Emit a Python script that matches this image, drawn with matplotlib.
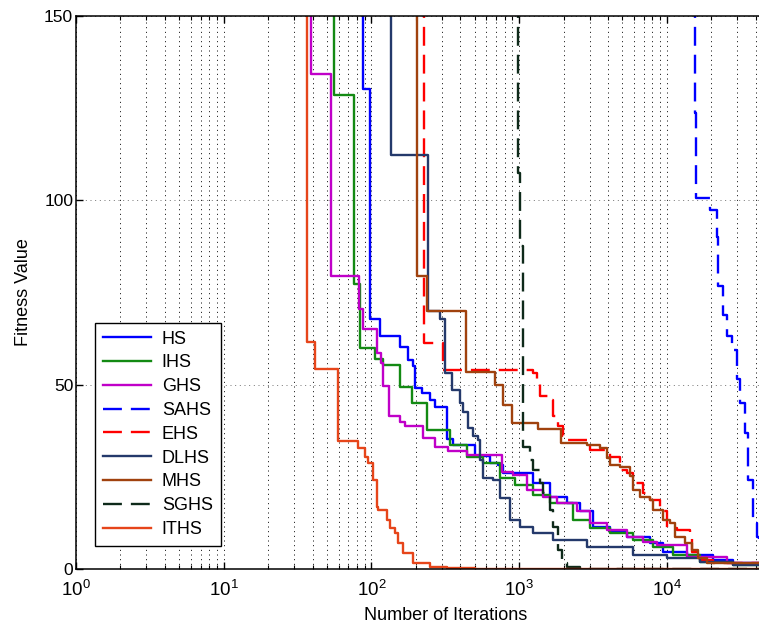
import matplotlib
matplotlib.use('Agg')
import matplotlib.pyplot as plt
from matplotlib.ticker import FixedLocator, LogLocator, NullFormatter, LogFormatterSciNotation

plt.rcParams['font.family'] = ['Liberation Sans', 'DejaVu Sans']
plt.rcParams['mathtext.fontset'] = 'custom'
plt.rcParams['mathtext.rm'] = 'Liberation Sans'
plt.rcParams['mathtext.it'] = 'Liberation Sans:italic'
plt.rcParams['mathtext.bf'] = 'Liberation Sans:bold'

# valores (iteracion donde cambia -> fitness desde ahi)
hs_iter = [1, 87.7, 97.9, 114.4, 156, 177.8, 192, 197, 219, 249, 270, 324, 359, 503, 635, 723, 782,
           1242, 1619, 2110, 2584, 3164, 4125, 5380, 7695, 9420, 13700, 20550, 28060, 1e5]
hs_fit = [200, 130.3, 67.9, 63.3, 60.2, 56.8, 55.0, 49.1, 47.7, 45.9, 43.9, 35.2, 33.7, 30.7, 28.7, 28.3, 26.0,
          23.3, 19.6, 17.8, 15.6, 11.5, 10.1, 8.8, 7.0, 4.7, 3.8, 2.4, 1.7, 1.4]

ihs_iter = [1, 55.8, 76.3, 83.7, 106, 120.4, 156, 187.5, 239, 341, 442, 572, 743, 938, 1242, 1619,
            2317, 3020, 4125, 5905, 8070, 11020, 16790, 28060, 1e5]
ihs_fit = [200, 128.5, 77.4, 60.0, 57.0, 55.2, 49.4, 45.0, 37.6, 33.7, 30.5, 28.7, 24.6, 22.8, 20.1, 17.9,
           13.3, 11.1, 9.7, 7.9, 6.1, 3.8, 2.0, 1.1, 0.8]

ghs_iter = [1, 39.0, 53.0, 82.8, 88.2, 108.6, 116, 120.4, 132, 156, 169, 225, 270, 332, 442, 763, 909,
            1130, 1452, 1806, 2466, 3020, 3937, 5380, 6900, 8590, 13700, 25600, 1e5]
ghs_fit = [200, 134.2, 79.6, 70.4, 65.1, 58.6, 55.9, 49.5, 41.4, 40.0, 38.9, 35.5, 33.0, 31.9, 30.8, 26.2, 25.5,
           21.5, 19.6, 17.9, 15.6, 12.4, 10.6, 8.8, 7.4, 6.5, 3.3, 1.5, 1.1]

sahs_iter = [1, 15520, 15770, 19600, 21770, 22320, 24140, 25580, 27500, 29730, 31320, 33830, 35640,
             38540, 40610, 42100, 1e5]
sahs_fit = [200, 123.8, 100.7, 97.3, 90.0, 76.7, 69.0, 63.1, 59.5, 51.4, 45.0, 37.0, 24.2,
            12.5, 8.7, 7.1, 5.0]

ehs_iter = [1, 227, 307, 1248, 1316, 1386, 1619, 1705, 1842, 1991, 2100, 2870, 3020, 4125, 4820, 5350,
            5935, 6935, 7695, 8995, 9980, 11670, 14360, 14900, 16790, 20650, 1e5]
ehs_fit = [200, 61.3, 54.0, 53.2, 50.9, 46.8, 45.9, 41.4, 38.7, 36.0, 35.1, 33.7, 32.3, 30.5, 26.9, 26.0,
           23.3, 20.6, 18.8, 15.6, 11.1, 10.6, 9.2, 4.7, 2.4, 1.5, 1.1]

dlhs_iter = [1, 135.8, 240.5, 291, 315, 350, 398, 419, 453, 490, 530, 544, 572, 669, 743, 867, 1014,
             1242, 1697, 2882, 5905, 10030, 16790, 28060, 1e5]
dlhs_fit = [200, 112.3, 69.9, 67.7, 53.2, 48.6, 45.0, 42.7, 38.2, 36.0, 35.1, 29.6, 24.6, 24.2, 19.2, 13.3, 11.5,
            9.7, 7.9, 6.1, 3.8, 2.9, 2.0, 1.1, 0.8]

mhs_iter = [1, 202.7, 237, 437, 687, 774, 891, 1349, 1922, 2870, 3530, 3919, 4125, 4820, 5635, 5935,
            6590, 7695, 8110, 9470, 10510, 11370, 13280, 14750, 16340, 18620, 1e5]
mhs_fit = [200, 79.6, 69.9, 53.4, 50.0, 44.6, 39.6, 38.0, 34.2, 33.7, 32.8, 30.1, 28.3, 27.8, 25.1, 21.5,
           19.6, 18.8, 16.0, 13.3, 12.4, 8.8, 7.0, 5.2, 2.9, 1.5, 0.6]

sghs_iter = [1, 979, 1014, 1067, 1186, 1248, 1386, 1459, 1619, 1705, 1842, 1942, 2100, 2584, 1e5]
sghs_fit = [200, 107.5, 87.6, 33.2, 29.6, 26.9, 23.3, 20.6, 16.0, 11.5, 5.2, 1.5, 0.5, 0.1, 0.1]

iths_iter = [1, 36.5, 41.5, 59.7, 81.5, 90.5, 95.3, 103, 108.6, 111, 127, 134, 144.5, 152, 164, 192,
             249, 324, 500, 1e5]
iths_fit = [200, 61.5, 54.3, 34.6, 32.8, 30.5, 28.7, 24.2, 16.9, 16.0, 13.3, 11.1, 9.7, 7.0, 4.3, 1.7,
            0.6, 0.2, 0.1, 0.1]

nombres = ['HS', 'IHS', 'GHS', 'SAHS', 'EHS', 'DLHS', 'MHS', 'SGHS', 'ITHS']
datos = [(hs_iter, hs_fit), (ihs_iter, ihs_fit), (ghs_iter, ghs_fit), (sahs_iter, sahs_fit),
         (ehs_iter, ehs_fit), (dlhs_iter, dlhs_fit), (mhs_iter, mhs_fit), (sghs_iter, sghs_fit),
         (iths_iter, iths_fit)]
colores = ['#0000ff', '#138a13', '#c000c8', '#0000ff', '#ff0000', '#24396b', '#a0420e', '#0e2a1a', '#e6451a']
guion = (0, (8, 3.8))
estilos = ['-', '-', '-', guion, guion, '-', '-', guion, '-']

fig = plt.figure(figsize=(7.59, 6.29), dpi=100)
ax = fig.add_axes([0.1001, 0.0954, 0.9730, 0.8792])

for nombre, (x, y), c, ls in zip(nombres, datos, colores, estilos):
    ax.plot(x, y, drawstyle='steps-post', color=c, linestyle=ls, lw=1.7, label=nombre)

ax.set_xscale('log')
ax.set_xlim(1, 1e5)
ax.set_ylim(0, 150)
ax.set_yticks([0, 50, 100, 150])
ax.xaxis.set_major_locator(FixedLocator([1, 10, 100, 1000, 10000]))
ax.xaxis.set_minor_locator(LogLocator(base=10, subs=range(2, 10), numticks=20))
ax.xaxis.set_minor_formatter(NullFormatter())
ax.xaxis.set_major_formatter(LogFormatterSciNotation())

ax.tick_params(which='both', direction='in', top=True, right=True)
ax.tick_params(axis='y', labelsize=12.5, pad=2)
ax.tick_params(axis='x', labelsize=13.5, pad=8)
ax.tick_params(which='major', length=5, width=1)
ax.tick_params(which='minor', length=3, width=0.8)

ax.grid(True, axis='x', which='both', color='k', linestyle=(0, (1, 3.8)), lw=0.7)
ax.grid(True, axis='y', which='major', color='0.45', linestyle=(0, (1, 3.8)), lw=0.7)
ax.set_axisbelow(True)

for s in ax.spines.values():
    s.set_linewidth(1.1)

ax.set_xlabel('Number of Iterations', fontsize=13, labelpad=5)
ax.set_ylabel('Fitness Value', fontsize=13, labelpad=9)

leg = ax.legend(loc='lower left', bbox_to_anchor=(0.0257, 0.0416), borderaxespad=0, fontsize=13,
                fancybox=False, framealpha=1, edgecolor='k', handlelength=2.65, handletextpad=0.6,
                labelspacing=0.375, borderpad=0.45)
leg.get_frame().set_linewidth(1.0)

fig.savefig('out.png', dpi=100)
